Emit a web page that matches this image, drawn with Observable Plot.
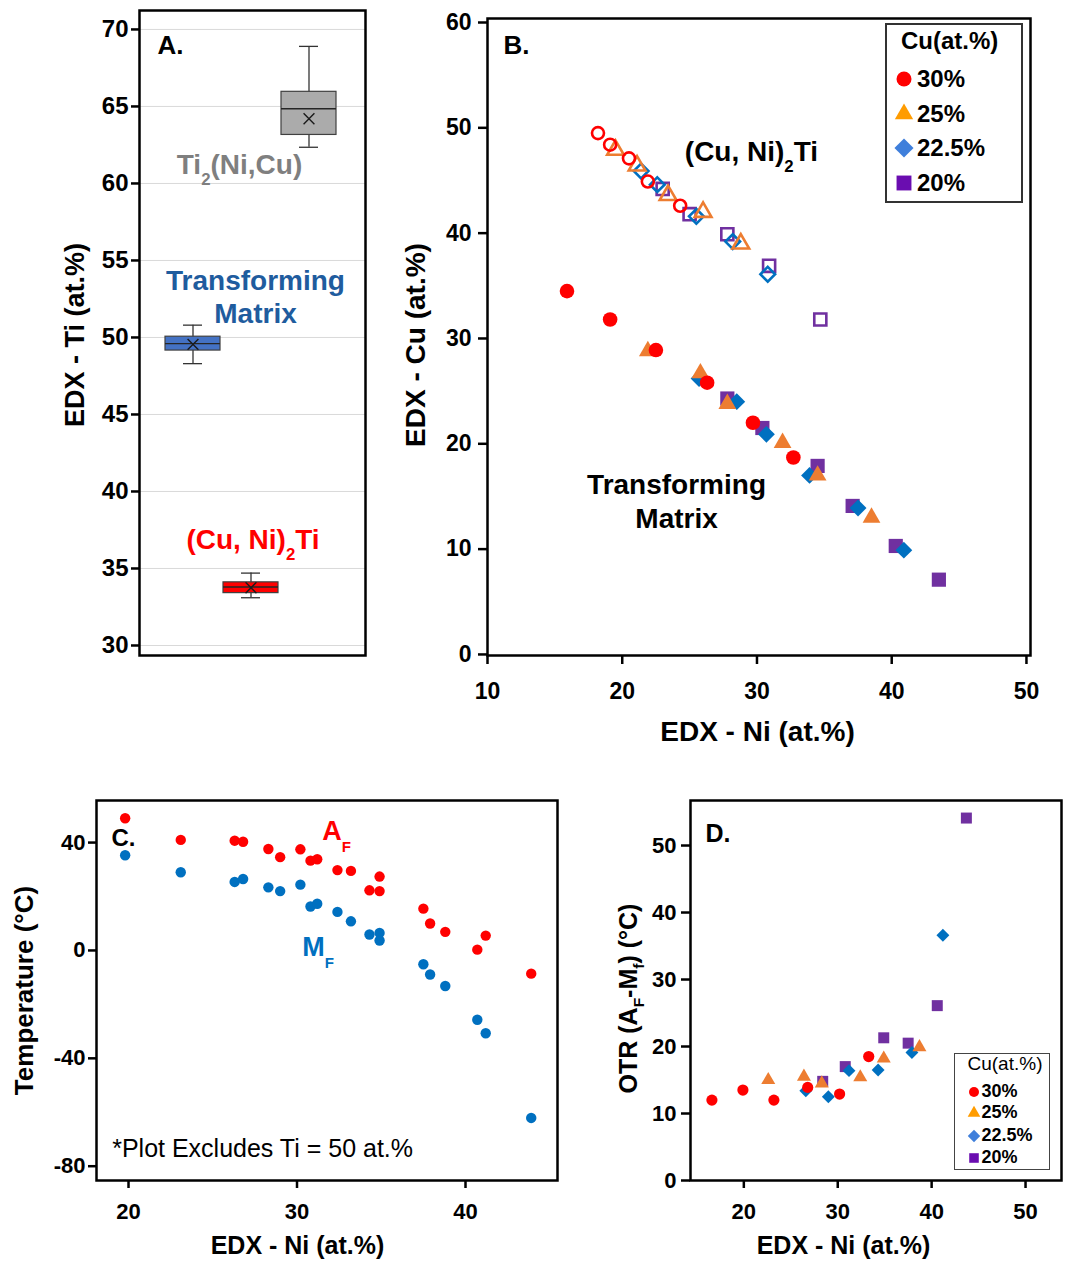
<!DOCTYPE html>
<html>
<head>
<meta charset="utf-8">
<script src="https://cdn.jsdelivr.net/npm/d3@7"></script>
<script src="https://cdn.jsdelivr.net/npm/@observablehq/plot@0.6"></script>
<style>
  body { margin: 0; background: #fff; }
  #fig { position: relative; width: 1065px; height: 1261px; background: #fff;
         font-family: "Liberation Sans", Arial, Helvetica, sans-serif; }
  .panel { position: absolute; }
  .legend { position: absolute; box-sizing: border-box; background: #fff; color: #000; }
  .legend span { position: absolute; white-space: nowrap; }
  .legend svg { position: absolute; overflow: visible; }
</style>
</head>
<body>
<div id="fig"></div>
<script>
// ---------- Panel A: Ti content of each phase (box summaries, at.%) ----------
const phases   = ["Transforming Matrix", "(Cu, Ni)2Ti", "Ti2(Ni,Cu)"];
const tiLow    = [48.3, 33.1, 62.35];
const tiQ1     = [49.15, 33.4, 63.15];
const tiMedian = [49.6, 33.8, 64.85];
const tiQ3     = [50.05, 34.1, 65.95];
const tiHigh   = [50.8, 34.7, 68.9];
const tiMean   = [49.55, 33.75, 64.2];
const tiTicks  = [30, 35, 40, 45, 50, 55, 60, 65, 70];

// ---------- Panel B: Cu vs Ni content by nominal Cu level ----------
const cuLevels = ["30%", "25%", "22.5%", "20%"];
// (Cu, Ni)2Ti precipitates
const precipNi = [
  [18.2, 19.1, 20.5, 21.9, 24.3],
  [19.5, 21.1, 23.4, 26.0, 28.8],
  [21.4, 22.6, 25.5, 28.2, 30.8],
  [23.0, 25.0, 27.8, 30.9, 34.7]
];
const precipCu = [
  [49.5, 48.4, 47.1, 44.9, 42.6],
  [47.9, 46.4, 43.6, 42.0, 39.0],
  [45.9, 44.6, 41.6, 39.2, 36.1],
  [44.2, 41.8, 39.9, 36.9, 31.8]
];
// transforming matrix
const matrixNi = [
  [15.9, 19.1, 22.5, 26.3, 29.7, 32.7],
  [21.9, 25.8, 27.8, 31.9, 34.5, 38.5],
  [25.7, 28.5, 30.7, 33.9, 37.5, 40.9],
  [27.8, 30.4, 34.5, 37.1, 40.3, 43.5]
];
const matrixCu = [
  [34.5, 31.8, 28.9, 25.8, 22.0, 18.7],
  [28.8, 26.7, 23.8, 20.1, 17.0, 13.0],
  [26.2, 24.0, 20.9, 17.0, 13.9, 9.9],
  [24.3, 21.5, 17.9, 14.1, 10.3, 7.1]
];
const bTicksX = [10, 20, 30, 40, 50];
const bTicksY = [0, 10, 20, 30, 40, 50, 60];

// ---------- Panel C: transformation temperatures vs Ni ----------
const cNi = [19.8, 23.1, 26.3, 26.8, 28.3, 29.0, 30.2, 30.8, 31.2, 32.4,
             33.2, 34.3, 34.9, 34.9, 37.5, 37.9, 38.8, 40.7, 41.2, 43.9];
const cAf = [49.0, 41.0, 40.7, 40.3, 37.6, 34.6, 37.5, 33.3, 33.8, 29.8,
             29.5, 22.3, 27.4, 22.0, 15.5, 10.0, 6.9, 0.3, 5.5, -8.6];
const cMf = [35.3, 29.0, 25.4, 26.5, 23.4, 22.0, 24.4, 16.3, 17.3, 14.3,
             10.8, 5.9, 6.5, 3.7, -5.1, -8.9, -13.2, -25.7, -30.7, -62.1];
const cTicksX = [20, 30, 40];
const cTicksY = [-80, -40, 0, 40];

// ---------- Panel D: thermal hysteresis (Af - Mf) vs Ni ----------
const otrNi = [
  [16.6, 19.9, 23.2, 26.8, 30.2, 33.3],
  [22.6, 26.4, 28.3, 32.4, 34.9, 38.7],
  [26.6, 29.0, 31.2, 34.3, 37.9, 41.2],
  [28.4, 30.8, 34.9, 37.5, 40.6, 43.7]
];
const otrVal = [
  [12.0, 13.5, 12.0, 13.9, 12.9, 18.5],
  [15.0, 15.5, 14.5, 15.4, 18.2, 19.9],
  [13.4, 12.5, 16.4, 16.5, 19.1, 36.6],
  [14.8, 17.0, 21.3, 20.5, 26.1, 54.1]
];
const dTicksX = [20, 30, 40, 50];
const dTicksY = [0, 10, 20, 30, 40, 50];

// ---------- styling ----------
const FONT = '"Liberation Sans", Arial, Helvetica, sans-serif';
const phaseFill   = ["#4472C4", "#FF0000", "#ABABAB"];
const seriesColor = {"30%": "#FF0000", "25%": "#ED7D31", "22.5%": "#0070C0", "20%": "#7030A0"};
const legendColor = {"30%": "#FF0000", "25%": "#FF9C00", "22.5%": "#3F7FDB", "20%": "#6A0DB0"};
const seriesSymbol = {"30%": "circle", "25%": "triangle", "22.5%": "diamond2", "20%": "square"};
const d3Symbol = {circle: d3.symbolCircle, triangle: d3.symbolTriangle, diamond2: d3.symbolDiamond2, square: d3.symbolSquare};
const drawOrder = ["20%", "22.5%", "25%", "30%"];   // red ends up on top

const rB_filled = {circle: 7.3, triangle: 6.6, diamond2: 7.6, square: 8.0};
const rB_open   = {circle: 6.0, triangle: 6.2, diamond2: 6.6, square: 6.8};
const rD        = {circle: 5.6, triangle: 5.2, diamond2: 5.8, square: 6.2};

const panelStyle = size => ({fontFamily: FONT, fontSize: size + "px", fontWeight: "bold",
  color: "#000", background: "transparent", overflow: "visible"});
const label = s => [s];
const txt = d => d;
const fmt = d => `${d}`;
// centred text placed relative to the plot frame
const frameText = (s, o) => Plot.text(label(s), {text: txt, textAnchor: "middle", lineAnchor: "middle", ...o});

// long tables built from the arrays above
const precipRows = cuLevels.flatMap((level, i) => precipNi[i].map((ni, j) => ({level, ni, cu: precipCu[i][j]})));
const matrixRows = cuLevels.flatMap((level, i) => matrixNi[i].map((ni, j) => ({level, ni, cu: matrixCu[i][j]})));
const otrRows    = cuLevels.flatMap((level, i) => otrNi[i].map((ni, j) => ({level, ni, otr: otrVal[i][j]})));
const boxRows    = phases.map((phase, i) => ({phase, lo: tiLow[i], q1: tiQ1[i], median: tiMedian[i],
                                              q3: tiQ3[i], hi: tiHigh[i], mean: tiMean[i]}));
const tempRows   = cNi.map((ni, i) => ({ni, af: cAf[i], mf: cMf[i]}));

// ---------- A ----------
const plotA = Plot.plot({
  width: 380, height: 700,
  marginLeft: 139, marginRight: 15, marginTop: 10, marginBottom: 45,
  style: panelStyle(24),
  x: {type: "band", domain: phases, paddingInner: 0.06, paddingOuter: 0.46, align: 0.47, axis: null},
  y: {domain: [29.35, 71.23]},
  color: {domain: phases, range: phaseFill},
  marks: [
    Plot.gridY({ticks: tiTicks, stroke: "#d9d9d9", strokeOpacity: 1, strokeWidth: 1}),
    Plot.ruleX(boxRows, {x: "phase", y1: "lo", y2: "hi", stroke: "#333", strokeWidth: 1.3}),
    Plot.tickY(boxRows, {x: "phase", y: "lo", stroke: "#333", strokeWidth: 1.3, insetLeft: 18, insetRight: 18}),
    Plot.tickY(boxRows, {x: "phase", y: "hi", stroke: "#333", strokeWidth: 1.3, insetLeft: 18, insetRight: 18}),
    Plot.barY(boxRows, {x: "phase", y1: "q1", y2: "q3", fill: "phase", stroke: "#404040", strokeWidth: 1.2}),
    Plot.tickY(boxRows, {x: "phase", y: "median", stroke: "#262626", strokeWidth: 1.4}),
    Plot.dot(boxRows, {x: "phase", y: "mean", symbol: "times", r: 5, stroke: "#1a1a1a", strokeWidth: 1.4}),
    Plot.frame({stroke: "#000", strokeWidth: 2.5}),
    Plot.axisY({ticks: tiTicks, tickSize: 8, tickPadding: 3, tickFormat: fmt, strokeWidth: 2.5, label: null}),
    frameText("EDX - Ti (at.%)", {frameAnchor: "left", rotate: -90, dx: -64, dy: 2, fontSize: 27}),
    frameText("A.", {frameAnchor: "top-left", textAnchor: "start", dx: 18, dy: 35, fontSize: 26}),
    frameText("Ti_{2}(Ni,Cu)", {frameAnchor: "top-left", dx: 100, dy: 155, fill: "#7F7F7F", fontSize: 28}),
    frameText("Transforming\nMatrix", {frameAnchor: "top-left", dx: 116, dy: 285.5, fill: "#1F5C9E", fontSize: 28, lineHeight: 1.18}),
    frameText("(Cu, Ni)_{2}Ti", {frameAnchor: "top-left", dx: 113.5, dy: 530, fill: "#FF0000", fontSize: 28})
  ]
});

// ---------- B ----------
const plotB = Plot.plot({
  width: 685, height: 770,
  marginLeft: 107, marginRight: 35, marginTop: 18, marginBottom: 115,
  style: panelStyle(23),
  x: {domain: [10, 50.3]},
  y: {domain: [-0.1, 60.38]},
  marks: [
    ...drawOrder.map(level => Plot.dot(precipRows.filter(d => d.level === level), {
      x: "ni", y: "cu", symbol: seriesSymbol[level], r: rB_open[seriesSymbol[level]],
      fill: "none", stroke: seriesColor[level], strokeWidth: 2.6})),
    ...drawOrder.map(level => Plot.dot(matrixRows.filter(d => d.level === level), {
      x: "ni", y: "cu", symbol: seriesSymbol[level], r: rB_filled[seriesSymbol[level]],
      fill: seriesColor[level], stroke: "none"})),
    Plot.frame({stroke: "#000", strokeWidth: 2.5}),
    Plot.axisX({ticks: bTicksX, tickSize: 9, tickPadding: 18, tickFormat: fmt, strokeWidth: 2.5, label: null}),
    Plot.axisY({ticks: bTicksY, tickSize: 9, tickPadding: 7, tickFormat: fmt, strokeWidth: 2.5, label: null}),
    frameText("EDX - Cu (at.%)", {frameAnchor: "left", rotate: -90, dx: -71, dy: 8, fontSize: 28}),
    frameText("EDX - Ni (at.%)", {frameAnchor: "bottom", dx: -1.5, dy: 77, fontSize: 28}),
    frameText("B.", {frameAnchor: "top-left", textAnchor: "start", dx: 16, dy: 27, fontSize: 26}),
    Plot.text(label("(Cu, Ni)_{2}Ti"), {text: txt, x: 29.59, y: 47.66, fontSize: 28}),
    Plot.text(label("Transforming\nMatrix"), {text: txt, x: 24.03, y: 14.62, fontSize: 28, lineHeight: 1.2})
  ]
});

// ---------- C ----------
const plotC = Plot.plot({
  width: 600, height: 491,
  marginLeft: 96, marginRight: 43, marginTop: 30, marginBottom: 81,
  style: panelStyle(22),
  x: {domain: [18.1, 45.46]},
  y: {domain: [-85.3, 55.6]},
  marks: [
    Plot.dot(tempRows, {x: "ni", y: "mf", r: 5.2, fill: "#0070C0"}),
    Plot.dot(tempRows, {x: "ni", y: "af", r: 5.2, fill: "#FF0000"}),
    Plot.frame({stroke: "#000", strokeWidth: 2.5}),
    Plot.axisX({ticks: cTicksX, tickSize: 8, tickPadding: 15, tickFormat: fmt, strokeWidth: 2.5, label: null}),
    Plot.axisY({ticks: cTicksY, tickSize: 8, tickPadding: 3, tickFormat: fmt, strokeWidth: 2.5, label: null}),
    frameText("Temperature (°C)", {frameAnchor: "left", rotate: -90, dx: -72, dy: 0, fontSize: 26}),
    frameText("EDX - Ni (at.%)", {frameAnchor: "bottom", dx: -29.5, dy: 65, fontSize: 25}),
    frameText("C.", {frameAnchor: "top-left", textAnchor: "start", dx: 15, dy: 38, fontSize: 24}),
    Plot.text(label("A_{F}"), {text: txt, x: 31.5, y: 44.1, textAnchor: "start", fill: "#FF0000", fontSize: 27}),
    Plot.text(label("M_{F}"), {text: txt, x: 30.31, y: 1.3, textAnchor: "start", fill: "#0070C0", fontSize: 27}),
    Plot.text(label("*Plot Excludes Ti = 50 at.%"), {text: txt, x: 19.03, y: -73.7, textAnchor: "start", fontWeight: "normal", fontSize: 25})
  ]
});

// ---------- D ----------
const plotD = Plot.plot({
  width: 465, height: 491,
  marginLeft: 90, marginRight: 4, marginTop: 30, marginBottom: 81,
  style: panelStyle(22),
  x: {domain: [14.32, 53.83]},
  y: {domain: [0, 56.72]},
  marks: [
    ...drawOrder.map(level => Plot.dot(otrRows.filter(d => d.level === level), {
      x: "ni", y: "otr", symbol: seriesSymbol[level], r: rD[seriesSymbol[level]],
      fill: seriesColor[level], stroke: "none"})),
    Plot.frame({stroke: "#000", strokeWidth: 2.5}),
    Plot.axisX({ticks: dTicksX, tickSize: 8, tickPadding: 15, tickFormat: fmt, strokeWidth: 2.5, label: null}),
    Plot.axisY({ticks: dTicksY, tickSize: 9, tickPadding: 5, tickFormat: fmt, strokeWidth: 2.5, label: null}),
    frameText("OTR (A_{F}-M_{f}) (°C)", {frameAnchor: "left", rotate: -90, dx: -62, dy: 8, fontSize: 25}),
    frameText("EDX - Ni (at.%)", {frameAnchor: "bottom", dx: -32.5, dy: 65, fontSize: 25}),
    frameText("D.", {frameAnchor: "top-left", textAnchor: "start", dx: 15, dy: 33, fontSize: 25})
  ]
});

// ---------- layout ----------
const fig = document.getElementById("fig");
function place(node, left, top) {
  const wrap = document.createElement("div");
  wrap.className = "panel";
  wrap.style.left = left + "px";
  wrap.style.top = top + "px";
  wrap.appendChild(node);
  fig.appendChild(wrap);
  return wrap;
}
const wA = place(plotA, 0, 0);
const wB = place(plotB, 380, 0);
const wC = place(plotC, 0, 770);
const wD = place(plotD, 600, 770);

// turn "_{x}" markers into lowered, smaller tspans
function applySubscripts(root, scale, shift) {
  const ns = "http://www.w3.org/2000/svg";
  root.querySelectorAll("text, tspan").forEach(el => {
    if (el.children.length) return;
    const s = el.textContent;
    if (!s.includes("_{")) return;
    const fs = parseFloat(getComputedStyle(el).fontSize);
    const down = fs * shift;
    el.textContent = "";
    let lowered = false;
    for (const part of s.split(/(_\{[^}]*\})/)) {
      if (!part) continue;
      const t = document.createElementNS(ns, "tspan");
      if (part.startsWith("_{")) {
        t.textContent = part.slice(2, -1);
        t.setAttribute("font-size", fs * scale);
        if (!lowered) { t.setAttribute("dy", down); lowered = true; }
      } else {
        t.textContent = part;
        if (lowered) { t.setAttribute("dy", -down); lowered = false; }
      }
      el.appendChild(t);
    }
  });
}
applySubscripts(wA, 0.6, 0.36);
applySubscripts(wB, 0.6, 0.36);
applySubscripts(wC, 0.56, 0.45);
applySubscripts(wD, 0.62, 0.3);

// ---------- Cu(at.%) legends ----------
function addLegend(cfg) {
  const box = document.createElement("div");
  box.className = "legend";
  Object.assign(box.style, {left: cfg.left + "px", top: cfg.top + "px", width: cfg.width + "px",
    height: cfg.height + "px", border: cfg.border, fontFamily: FONT});
  const title = document.createElement("span");
  title.textContent = "Cu(at.%)";
  Object.assign(title.style, {left: cfg.titleLeft + "px", top: (cfg.titleY - cfg.titleSize * 0.6) + "px",
    fontSize: cfg.titleSize + "px", lineHeight: (cfg.titleSize * 1.2) + "px", fontWeight: cfg.titleWeight});
  box.appendChild(title);
  cuLevels.forEach((level, i) => {
    const cy = cfg.rowY[i];
    const sym = seriesSymbol[level];
    const svg = d3.create("svg").attr("width", 1).attr("height", 1)
      .style("left", cfg.symX + "px").style("top", cy + "px");
    svg.append("path")
      .attr("d", d3.symbol(d3Symbol[sym], Math.PI * cfg.symR[sym] ** 2)())
      .attr("fill", legendColor[level]);
    box.appendChild(svg.node());
    const t = document.createElement("span");
    t.textContent = level;
    Object.assign(t.style, {left: cfg.textX + "px", top: (cy - cfg.textSize * 0.6) + "px",
      fontSize: cfg.textSize + "px", lineHeight: (cfg.textSize * 1.2) + "px", fontWeight: "bold"});
    box.appendChild(t);
  });
  fig.appendChild(box);
}

addLegend({
  left: 885, top: 23, width: 138, height: 180, border: "2px solid #333",
  titleLeft: 14, titleY: 16, titleSize: 24, titleWeight: "bold",
  rowY: [54, 89, 123, 158], symX: 17, textX: 30, textSize: 24,
  symR: {circle: 7.5, triangle: 6.8, diamond2: 8.6, square: 8.4}
});
addLegend({
  left: 954, top: 1053, width: 96, height: 117, border: "1.5px solid #444",
  titleLeft: 12.5, titleY: 10.5, titleSize: 19, titleWeight: "normal",
  rowY: [37.5, 58.5, 81.5, 103.5], symX: 18.5, textX: 26.5, textSize: 18,
  symR: {circle: 5.0, triangle: 4.7, diamond2: 5.6, square: 5.4}
});
</script>
</body>
</html>
